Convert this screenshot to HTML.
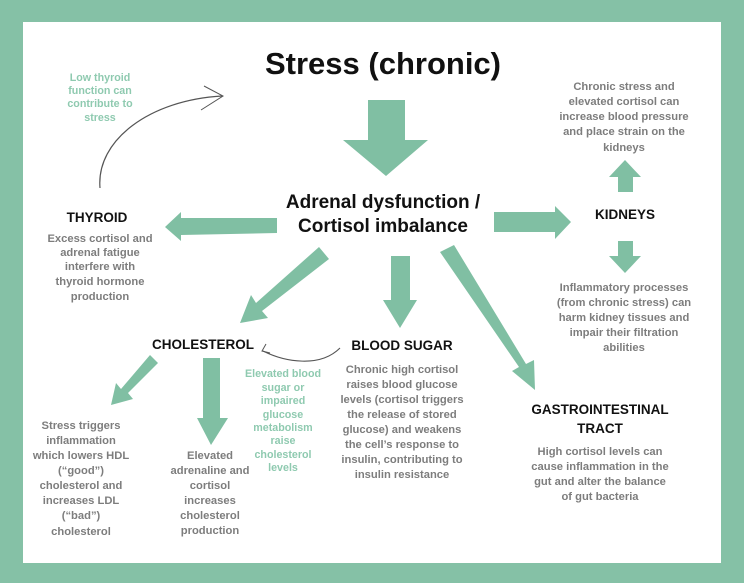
<!DOCTYPE html>
<html><head><meta charset="utf-8"><style>
html,body{margin:0;padding:0;background:#85c1a6;}
svg{display:block;}
text{font-family:"Liberation Sans",sans-serif;font-weight:bold;text-anchor:middle;}
.g{fill:#7d7d7d;font-size:11.2px;}
.h{fill:#111;font-size:13.5px;}
.l{fill:#8fcab0;font-size:10.7px;}
</style></head><body>
<svg width="744" height="583" viewBox="0 0 744 583">
<rect x="0" y="0" width="744" height="583" fill="#85c1a6"/>
<rect x="23" y="22" width="698" height="541" fill="#fff"/>
<g fill="#80bfa3">
<polygon points="368,100 405,100 405,140 428,140 386,176 343,140 368,140"/>
<polygon points="277,218 277,233 181,235 181,241 165,227 181,212 181,218"/>
<polygon points="494,212 555,212 555,206 571,222 555,239 555,232 494,232"/>
<polygon points="618,192 633,192 633,177 641,177 625,160 609,177 618,177"/>
<polygon points="618,241 633,241 633,256 641,256 625,273 609,256 618,256"/>
<polygon points="391,256 410,256 410,300 417,300 400,328 383,300 391,300"/>
<polygon points="319,247 329,259 262,311 268,318 240,323 251,295 256,303"/>
<polygon points="440,252 454,245 526,364 534,360 535,390 512,371 519,367"/>
<polygon points="150,355 158,363 128,393 133,399 111,405 116,383 121,389"/>
<polygon points="203,358 220,358 220,418 228,418 211,445 197,418 203,418"/>
</g>
<path d="M100,188 C96,140 150,100 222,96" fill="none" stroke="#555" stroke-width="1.2"/>
<path d="M204,86 L223,96 L201,110" fill="none" stroke="#555" stroke-width="1"/>
<path d="M340,348 C320,368 285,362 263,351" fill="none" stroke="#555" stroke-width="1.1"/>
<path d="M266,344 L262,351 L270,353" fill="none" stroke="#555" stroke-width="1"/>
<text x="383" y="74" style="font-size:31px;fill:#111">Stress (chronic)</text>
<text x="383" y="208" style="font-size:19px;fill:#111">Adrenal dysfunction /</text>
<text x="383" y="232" style="font-size:19px;fill:#111">Cortisol imbalance</text>
<text class="h" x="97" y="222">THYROID</text>
<text class="g" x="100" y="242">Excess cortisol and</text>
<text class="g" x="100" y="256">adrenal fatigue</text>
<text class="g" x="100" y="270">interfere with</text>
<text class="g" x="100" y="285">thyroid hormone</text>
<text class="g" x="100" y="300">production</text>
<text class="l" x="100" y="81">Low thyroid</text>
<text class="l" x="100" y="94">function can</text>
<text class="l" x="100" y="107">contribute to</text>
<text class="l" x="100" y="121">stress</text>
<text class="h" x="625" y="219">KIDNEYS</text>
<text class="g" x="624" y="90">Chronic stress and</text>
<text class="g" x="624" y="105">elevated cortisol can</text>
<text class="g" x="624" y="120">increase blood pressure</text>
<text class="g" x="624" y="135">and place strain on the</text>
<text class="g" x="624" y="151">kidneys</text>
<text class="g" x="624" y="291">Inflammatory processes</text>
<text class="g" x="624" y="306">(from chronic stress) can</text>
<text class="g" x="624" y="321">harm kidney tissues and</text>
<text class="g" x="624" y="336">impair their filtration</text>
<text class="g" x="624" y="351">abilities</text>
<text class="h" x="203" y="349">CHOLESTEROL</text>
<text class="h" x="402" y="350">BLOOD SUGAR</text>
<text class="l" x="283" y="377">Elevated blood</text>
<text class="l" x="283" y="391">sugar or</text>
<text class="l" x="283" y="404">impaired</text>
<text class="l" x="283" y="418">glucose</text>
<text class="l" x="283" y="431">metabolism</text>
<text class="l" x="283" y="444">raise</text>
<text class="l" x="283" y="458">cholesterol</text>
<text class="l" x="283" y="471">levels</text>
<text class="g" x="402" y="373">Chronic high cortisol</text>
<text class="g" x="402" y="388">raises blood glucose</text>
<text class="g" x="402" y="403">levels (cortisol triggers</text>
<text class="g" x="402" y="418">the release of stored</text>
<text class="g" x="402" y="433">glucose) and  weakens</text>
<text class="g" x="402" y="448">the cell’s response to</text>
<text class="g" x="402" y="463">insulin, contributing to</text>
<text class="g" x="402" y="478">insulin resistance</text>
<text class="g" x="81" y="429">Stress triggers</text>
<text class="g" x="81" y="444">inflammation</text>
<text class="g" x="81" y="459">which lowers HDL</text>
<text class="g" x="81" y="474">(“good”)</text>
<text class="g" x="81" y="489">cholesterol and</text>
<text class="g" x="81" y="504">increases LDL</text>
<text class="g" x="81" y="519">(“bad”)</text>
<text class="g" x="81" y="535">cholesterol</text>
<text class="g" x="210" y="459">Elevated</text>
<text class="g" x="210" y="474">adrenaline and</text>
<text class="g" x="210" y="489">cortisol</text>
<text class="g" x="210" y="504">increases</text>
<text class="g" x="210" y="519">cholesterol</text>
<text class="g" x="210" y="534">production</text>
<text class="h" x="600" y="414">GASTROINTESTINAL</text>
<text class="h" x="600" y="433">TRACT</text>
<text class="g" x="600" y="455">High cortisol levels can</text>
<text class="g" x="600" y="470">cause inflammation in the</text>
<text class="g" x="600" y="485">gut and alter the balance</text>
<text class="g" x="600" y="500">of gut bacteria</text>
</svg>
</body></html>
